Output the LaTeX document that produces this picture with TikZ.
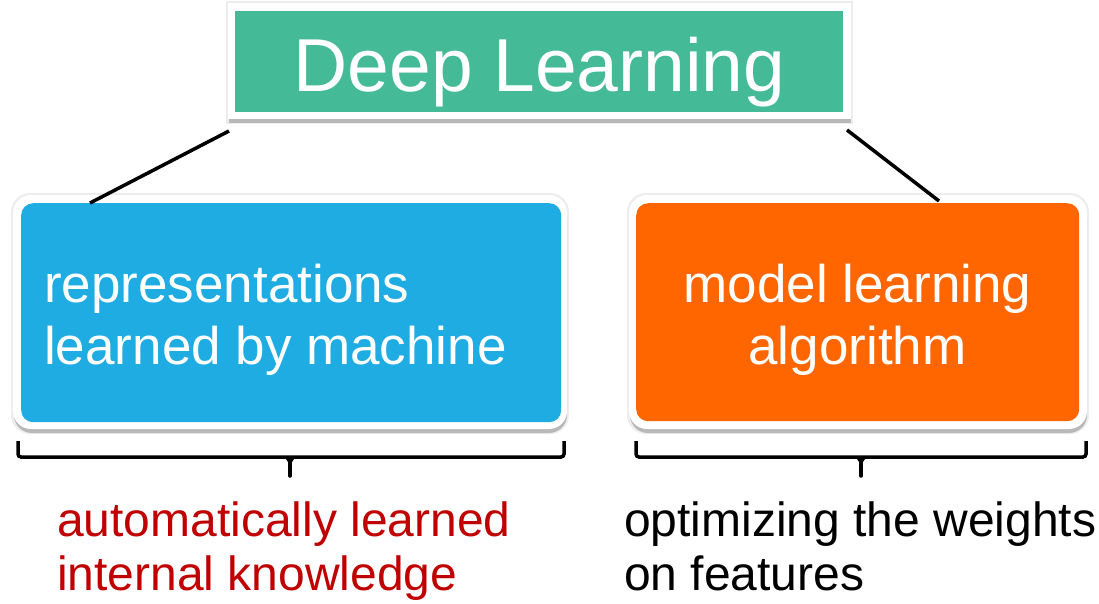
\documentclass[tikz,border=0pt]{standalone}
\usepackage{fontspec}
\setmainfont{Liberation Sans}
\definecolor{dlgreen}{HTML}{44BB96}
\definecolor{dlblue}{HTML}{1EACE2}
\definecolor{dlorange}{HTML}{FF6600}
\definecolor{dlred}{HTML}{C00000}
\begin{document}
\begin{tikzpicture}[x=1pt,y=-1pt,
  conn/.style={line width=3.5pt,black},
  bracestyle/.style={line width=3.5pt,black,rounded corners=3pt},
  shadowA/.style={fill=black!7},
  shadowB/.style={fill=black!28},
  frame/.style={fill=white},
  boxtext/.style={text=white,font=\fontsize{53}{62}\selectfont,inner sep=0pt},
  notetext/.style={font=\fontsize{48}{55}\selectfont,inner sep=0pt,align=left}]
\useasboundingbox (0,0) rectangle (1099,603);
% --- top box ---
\fill[shadowA] (226,1) rectangle (853,124);
\fill[shadowB] (229,7) rectangle (851,123);
\fill[frame] (228,3) rectangle (851,119);
\node[fill=dlgreen,minimum width=608pt,minimum height=101pt,inner sep=0pt,anchor=north west] (top) at (235,11) {};
\node[text=white,font=\fontsize{75}{86}\selectfont,inner sep=0pt,anchor=base] (toptxt) at (539.5,91) {Deep Learning};
% --- left box ---
\fill[shadowA,rounded corners=19pt] (11,193) rectangle (569,434);
\fill[shadowB,rounded corners=18pt] (14,200) rectangle (567,433);
\fill[frame,rounded corners=18pt] (13,195) rectangle (567,429);
\node[fill=dlblue,rounded corners=12pt,minimum width=540pt,minimum height=219pt,inner sep=0pt,anchor=north west] (left) at (21,203) {};
\node[boxtext,anchor=base west] (l1) at (44,302) {representations};
\node[boxtext,anchor=base west] (l2) at (44,364) {learned by machine};
% --- right box ---
\fill[shadowA,rounded corners=19pt] (627,193) rectangle (1089,434);
\fill[shadowB,rounded corners=18pt] (630,200) rectangle (1087,433);
\fill[frame,rounded corners=18pt] (629,195) rectangle (1087,429);
\node[fill=dlorange,rounded corners=12pt,minimum width=443pt,minimum height=218pt,inner sep=0pt,anchor=north west] (right) at (636,203) {};
\node[boxtext,anchor=base] (r1) at (857.5,302) {model learning};
\node[boxtext,anchor=base] (r2) at (857.5,364) {algorithm};
% --- connectors ---
\coordinate (ta) at (229,131);
\coordinate (tb) at (847,130);
\coordinate (la) at (90,203);
\coordinate (rb) at (939,201);
\draw[conn] (ta) -- (la);
\draw[conn] (tb) -- (rb);
% --- braces ---
\coordinate (lb1) at (18,441);
\coordinate (lb2) at (564,441);
\coordinate (lbt) at (290,476);
\draw[bracestyle] (lb1) -- (18,457) -- (564,457) -- (lb2);
\draw[line width=3.5pt,line cap=round] (290,458) -- (lbt);
\fill (284,456) -- (296,456) -- (292,462) -- (288,462) -- cycle;
\coordinate (rb1) at (636,441);
\coordinate (rb2) at (1086,441);
\coordinate (rbt) at (861,476);
\draw[bracestyle] (rb1) -- (636,457) -- (1086,457) -- (rb2);
\draw[line width=3.5pt,line cap=round] (861,458) -- (rbt);
\fill (855,456) -- (867,456) -- (863,462) -- (859,462) -- cycle;
% --- notes ---
\node[notetext,text=dlred,anchor=base west] (n1) at (57,536) {automatically learned};
\node[notetext,text=dlred,anchor=base west] (n2) at (57,590) {internal knowledge};
\node[notetext,anchor=base west] (n3) at (624,536) {optimizing the weights};
\node[notetext,anchor=base west] (n4) at (624,590) {on features};
\end{tikzpicture}
\end{document}
